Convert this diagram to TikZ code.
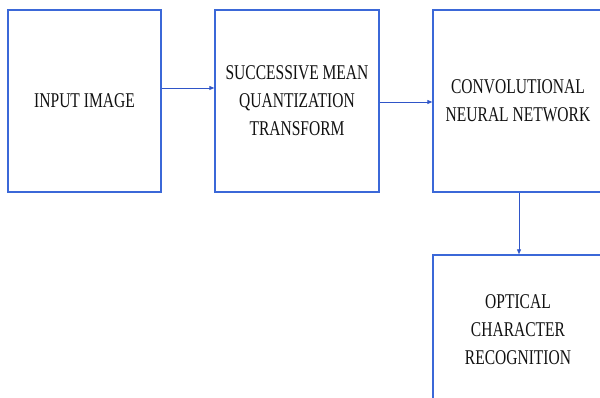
\documentclass[tikz,border=0pt]{standalone}
\usepackage{fontspec}
\usepackage{xcolor}
\usepackage{tikz}
\usetikzlibrary{arrows.meta,positioning,calc}
\newfontfamily\narrowserif[FakeStretch=0.74]{Liberation Serif}
\definecolor{edge}{HTML}{3B68D8}
\definecolor{link}{HTML}{2F55C8}
\definecolor{ink}{HTML}{111111}
\tikzset{
  stage/.style={draw=edge,line width=1.4pt,fill=white,align=center,text=ink,inner sep=4pt,font=\narrowserif\fontsize{21}{28}\selectfont},
  arrow/.style={-{Triangle[length=5pt,width=4pt]},line width=0.9pt,color=link},
}
\begin{document}
\begin{tikzpicture}[x=1pt,y=1pt]
    \useasboundingbox (0,0) rectangle (600,398);
    \node[stage,minimum width=153pt,minimum height=182pt] (img) at (84.5,297) {INPUT IMAGE};
    \node[stage,minimum width=164pt,minimum height=182pt] (smqt) at (297,297) {SUCCESSIVE MEAN\\QUANTIZATION\\TRANSFORM};
    \node[stage,minimum width=170pt,minimum height=182pt] (cnn) at (518,297) {CONVOLUTIONAL\\NEURAL NETWORK};
    \node[stage,minimum width=170pt,minimum height=150pt] (ocr) at (518,68) {OPTICAL\\CHARACTER\\RECOGNITION};
    \draw[arrow] ([yshift=13pt]img.east) -- ([yshift=13pt]smqt.west);
    \draw[arrow] ([yshift=-1pt]smqt.east) -- ([yshift=-1pt]cnn.west);
    \draw[arrow] ([xshift=1pt]cnn.south) -- ([xshift=1pt]ocr.north);
\end{tikzpicture}
\end{document}
